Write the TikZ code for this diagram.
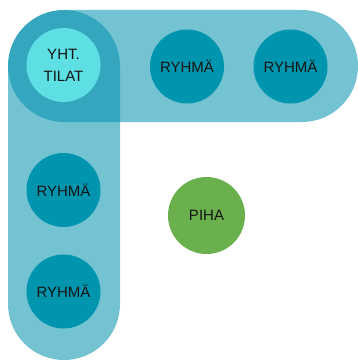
\documentclass[tikz,border=0pt]{standalone}
\usepackage{fontspec}
\setmainfont{Liberation Sans}
\usetikzlibrary{shapes}
\definecolor{bandblue}{RGB}{0,145,175}
\definecolor{groupblue}{RGB}{0,149,174}
\definecolor{commoncyan}{RGB}{93,223,228}
\definecolor{yardgreen}{RGB}{106,176,76}
\definecolor{labeltext}{RGB}{20,20,20}
\tikzset{
  band/.style={fill=bandblue,fill opacity=0.55,rounded corners=56pt},
  room/.style={circle,minimum size=74pt,inner sep=0pt,text=labeltext,
    font=\fontsize{15}{22}\selectfont,align=center},
}

\begin{document}
\begin{tikzpicture}[x=1pt,y=-1pt]
\useasboundingbox (0,0) rectangle (358,361);
\fill[band] (8,10) rectangle (358,122);
\fill[band] (8,10) rectangle (120,360);
\node[room,fill=commoncyan] (yht) at (63.5,65) {YHT.\\TILAT};
\node[room,fill=groupblue] (r1) at (187,66.5) {RYHMÄ};
\node[room,fill=groupblue] (r2) at (290.5,66.5) {RYHMÄ};
\node[room,fill=groupblue] (r3) at (63.5,190) {RYHMÄ};
\node[room,fill=groupblue] (r4) at (63.5,291.5) {RYHMÄ};
\node[room,fill=yardgreen,minimum size=77pt] (piha) at (206.5,215.5) {PIHA};
\end{tikzpicture}
\end{document}
